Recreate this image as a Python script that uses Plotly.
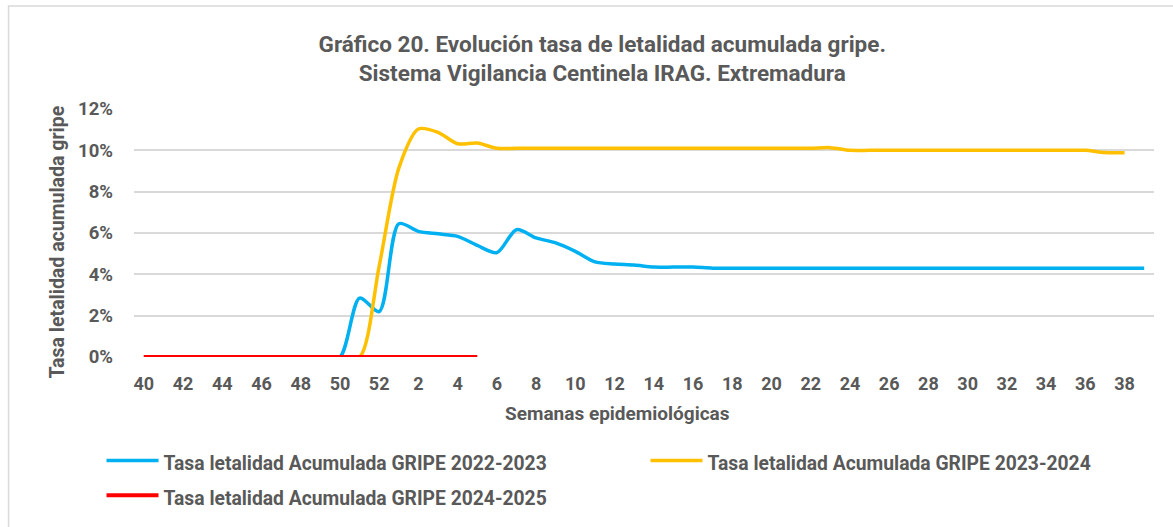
import plotly.graph_objects as go

weeks = [str(w) for w in list(range(40, 53)) + list(range(1, 40))]

# values in %
s2223 = [0, 0, 0, 0, 0, 0, 0, 0, 0, 0,
         0, 2.85, 2.2,
         6.45, 6.08, 5.96, 5.84, 5.4, 5.05, 6.16, 5.76, 5.52, 5.11, 4.6, 4.5,
         4.45, 4.35, 4.35, 4.35, 4.3, 4.3, 4.3, 4.3, 4.3, 4.3, 4.3, 4.3,
         4.3, 4.3, 4.3, 4.3, 4.3, 4.3, 4.3, 4.3, 4.3, 4.3, 4.3, 4.3, 4.3, 4.3, 4.3]
s2324 = [0, 0, 0, 0, 0, 0, 0, 0, 0, 0,
         0, 0, 4.4,
         9.14, 11.03, 10.87, 10.32, 10.35, 10.1, 10.1, 10.1, 10.1, 10.1, 10.1, 10.1,
         10.1, 10.1, 10.1, 10.1, 10.1, 10.1, 10.1, 10.1, 10.1, 10.1, 10.13, 10.0,
         10.0, 10.0, 10.0, 10.0, 10.0, 10.0, 10.0, 10.0, 10.0, 10.0, 10.0, 10.0, 9.9, 9.88]
s2425 = [0, 0, 0, 0, 0, 0, 0, 0, 0, 0, 0, 0, 0, 0, 0, 0, 0, 0]

names = ["Tasa letalidad Acumulada GRIPE 2022-2023",
         "Tasa letalidad Acumulada GRIPE 2023-2024",
         "Tasa letalidad Acumulada GRIPE 2024-2025"]
colors = ["#00B0F0", "#FFC000", "#FF0000"]

yticks = [0, 2, 4, 6, 8, 10, 12]
ytext = [f"{v}%" for v in yticks]

title_lines = ["Gráfico 20. Evolución tasa de letalidad acumulada gripe.",
               "Sistema Vigilancia Centinela IRAG. Extremadura"]
x_title = "Semanas epidemiológicas"
y_title = "Tasa letalidad acumulada gripe"

FONT = "Roboto"
GREY = "#595959"

fig = go.Figure()
for vals, name, col, w in [(s2223, names[0], colors[0], 3.5),
                           (s2324, names[1], colors[1], 3.5),
                           (s2425, names[2], colors[2], 4)]:
    fig.add_trace(go.Scatter(
        x=weeks[:len(vals)], y=vals,
        name=f"<span style='font-size:19.3px'>{name}</span>", mode="lines",
        line=dict(color=col, width=w, shape="spline", smoothing=0.8),
        hoverinfo="skip"))

W, H = 1173, 527
ml, mr, mt, mb = 133.5, 19, 109, 170
pw = W - ml - mr
ph = H - mt - mb


def px_x(x):
    return (x - ml) / pw


def px_y(y):
    return (mt + ph - y) / ph


fig.update_layout(
    width=W, height=H,
    margin=dict(l=ml, r=mr, t=mt, b=mb, pad=0, autoexpand=False),
    paper_bgcolor="white", plot_bgcolor="white",
    font=dict(family=FONT, color=GREY, size=18),
    title=dict(
        text="<b>" + "<br>".join(title_lines) + "</b>",
        x=px_x(602), xref="paper", xanchor="center",
        y=1 - 52 / H, yref="container", yanchor="top",
        font=dict(family=FONT, size=22.5, color=GREY)),
    xaxis=dict(
        type="category", categoryorder="array", categoryarray=weeks,
        range=[-0.5, 51.5], dtick=2, tick0=0,
        showgrid=False, showline=False, zeroline=False,
        ticks="", ticklabelstandoff=14,
        tickfont=dict(family=FONT, size=18, color=GREY, weight="bold")),
    yaxis=dict(
        range=[0, 12], tickvals=yticks, ticktext=ytext,
        showgrid=True, gridcolor="#d9d9d9", gridwidth=1.5,
        zeroline=False, showline=False, ticks="", ticklabelstandoff=20,
        tickfont=dict(family=FONT, size=18.5, color=GREY, weight="bold")),
    annotations=[
        dict(text=f"<b>{x_title}</b>", xref="paper", yref="paper",
             x=px_x(617), y=px_y(413), xanchor="center", yanchor="middle",
             showarrow=False, font=dict(family=FONT, size=19, color=GREY)),
        dict(text=f"<b>{y_title}</b>", xref="paper", yref="paper",
             x=px_x(56), y=px_y(242), xanchor="center", yanchor="middle",
             textangle=-90, showarrow=False,
             font=dict(family=FONT, size=19.5, color=GREY)),
    ],
    legend=dict(
        orientation="h", x=px_x(101), xanchor="left",
        y=px_y(438), yanchor="top",
        entrywidth=477, entrywidthmode="pixels", itemwidth=52,
        font=dict(family=FONT, size=24.5, color=GREY, weight="bold"),
        traceorder="normal", itemclick=False, itemdoubleclick=False),
    shapes=[dict(type="rect", xref="paper", yref="paper",
                 x0=px_x(8), x1=px_x(1185),
                 y0=px_y(H + 10), y1=px_y(6),
                 line=dict(color="#d9d9d9", width=1.5), layer="below")],
    showlegend=True,
)

fig.write_html("out.html", config={"displayModeBar": False},
               post_script="document.body.style.margin='0';")
